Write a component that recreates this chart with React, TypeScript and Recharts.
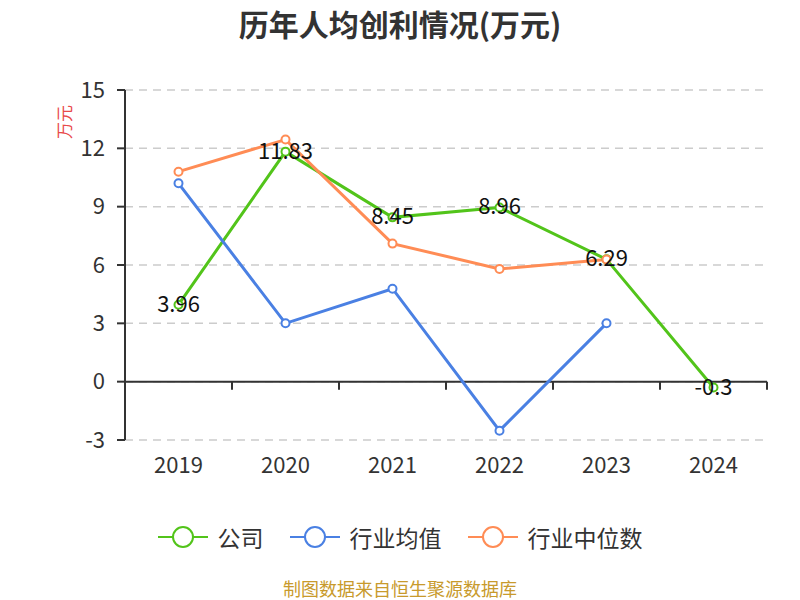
import React from 'react';
import {
    LineChart,
    Line,
    XAxis,
    YAxis,
    CartesianGrid,
    ReferenceLine,
    LabelList,
} from 'recharts';

const years = ['2019', '2020', '2021', '2022', '2023', '2024'];
const company = [3.96, 11.83, 8.45, 8.96, 6.29, -0.3];
const industryAvg = [10.2, 3.0, 4.78, -2.52, 3.0, null];
const industryMedian = [10.8, 12.45, 7.1, 5.8, 6.28, null];
const yTicks = [-3, 0, 3, 6, 9, 12, 15];

const series = [
    { key: 'company', name: '公司', color: '#52c41a' },
    { key: 'avg', name: '行业均值', color: '#4a80e3' },
    { key: 'median', name: '行业中位数', color: '#ff8c55' },
];

const data = years.map((year, i) => ({
    year,
    company: company[i],
    avg: industryAvg[i],
    median: industryMedian[i],
}));

// zero line with tick marks at the category boundaries
const ZeroAxis = (props: any) => {
    const { x1, x2, y1 } = props;
    const step = (x2 - x1) / years.length;
    return (
        <g>
            <line x1={x1} x2={x2} y1={y1} y2={y1} stroke="#333" strokeWidth={2} />
            {years.map((_, i) => (
                <line key={i} x1={x1 + step * (i + 1)} x2={x1 + step * (i + 1)} y1={y1} y2={y1 + 8} stroke="#333" strokeWidth={2} />
            ))}
        </g>
    );
};

const ValueLabel = (props: any) => {
    const { x, y, value } = props;
    return (
        <text x={x} y={y - 3} textAnchor="middle" dominantBaseline="central" fontSize={22} fill="#111">
            {value}
        </text>
    );
};

const LegendIcon = ({ color }: { color: string }) => (
    <svg width={50} height={24} style={{ marginRight: 10 }}>
        <line x1={0} x2={50} y1={12} y2={12} stroke={color} strokeWidth={2} />
        <circle cx={25} cy={12} r={10} fill="#fff" stroke={color} strokeWidth={2} />
    </svg>
);

export default function App() {
    const font = '"Noto Sans CJK SC", "Noto Sans", sans-serif';
    return (
        <div style={{ position: 'absolute', left: 0, top: 0, width: 800, height: 600, background: '#fff', fontFamily: font }}>
            <div style={{ position: 'absolute', top: 2, width: 800, textAlign: 'center', fontSize: 30, lineHeight: '42px', fontWeight: 'bold', color: '#333' }}>
                历年人均创利情况(万元)
            </div>
            <div style={{ position: 'absolute', left: 46, top: 112, fontSize: 17, lineHeight: '20px', color: '#e84b4b', transform: 'rotate(-90deg)', transformOrigin: 'center', width: 36, textAlign: 'center' }}>
                万元
            </div>
            <LineChart width={800} height={600} data={data} margin={{ top: 90, right: 33, bottom: 120, left: 65 }} style={{ fontFamily: font }}>
                <CartesianGrid vertical={false} stroke="#ccc" strokeDasharray="8 6" strokeWidth={1.5} />
                <XAxis dataKey="year" scale="band" axisLine={false} tickLine={false} height={40} tickMargin={11} tick={{ fontSize: 22, fill: '#333' }} />
                <YAxis
                    domain={[-3, 15]}
                    ticks={yTicks}
                    width={60}
                    interval={0}
                    axisLine={{ stroke: '#333', strokeWidth: 2 }}
                    tickLine={{ stroke: '#333', strokeWidth: 2 }}
                    tickSize={8}
                    tickMargin={12}
                    tick={{ fontSize: 22, fill: '#333' }}
                />
                <ReferenceLine y={0} shape={<ZeroAxis />} />
                {series.map(s => (
                    <Line
                        key={s.key}
                        dataKey={s.key}
                        name={s.name}
                        stroke={s.color}
                        strokeWidth={3}
                        dot={{ r: 4, fill: '#fff', stroke: s.color, strokeWidth: 2 }}
                        isAnimationActive={false}
                    >
                        {s.key === 'company' && <LabelList dataKey="company" content={<ValueLabel />} />}
                    </Line>
                ))}
            </LineChart>
            <div style={{ position: 'absolute', top: 520, width: 800, display: 'flex', justifyContent: 'center', alignItems: 'center', fontSize: 23, lineHeight: '34px', color: '#333' }}>
                {series.map(s => (
                    <div key={s.key} style={{ display: 'flex', alignItems: 'center', margin: '0 13px' }}>
                        <LegendIcon color={s.color} />
                        <span>{s.name}</span>
                    </div>
                ))}
            </div>
            <div style={{ position: 'absolute', top: 576, width: 800, textAlign: 'center', fontSize: 18, lineHeight: '24px', color: '#c89a2c' }}>
                制图数据来自恒生聚源数据库
            </div>
        </div>
    );
}
